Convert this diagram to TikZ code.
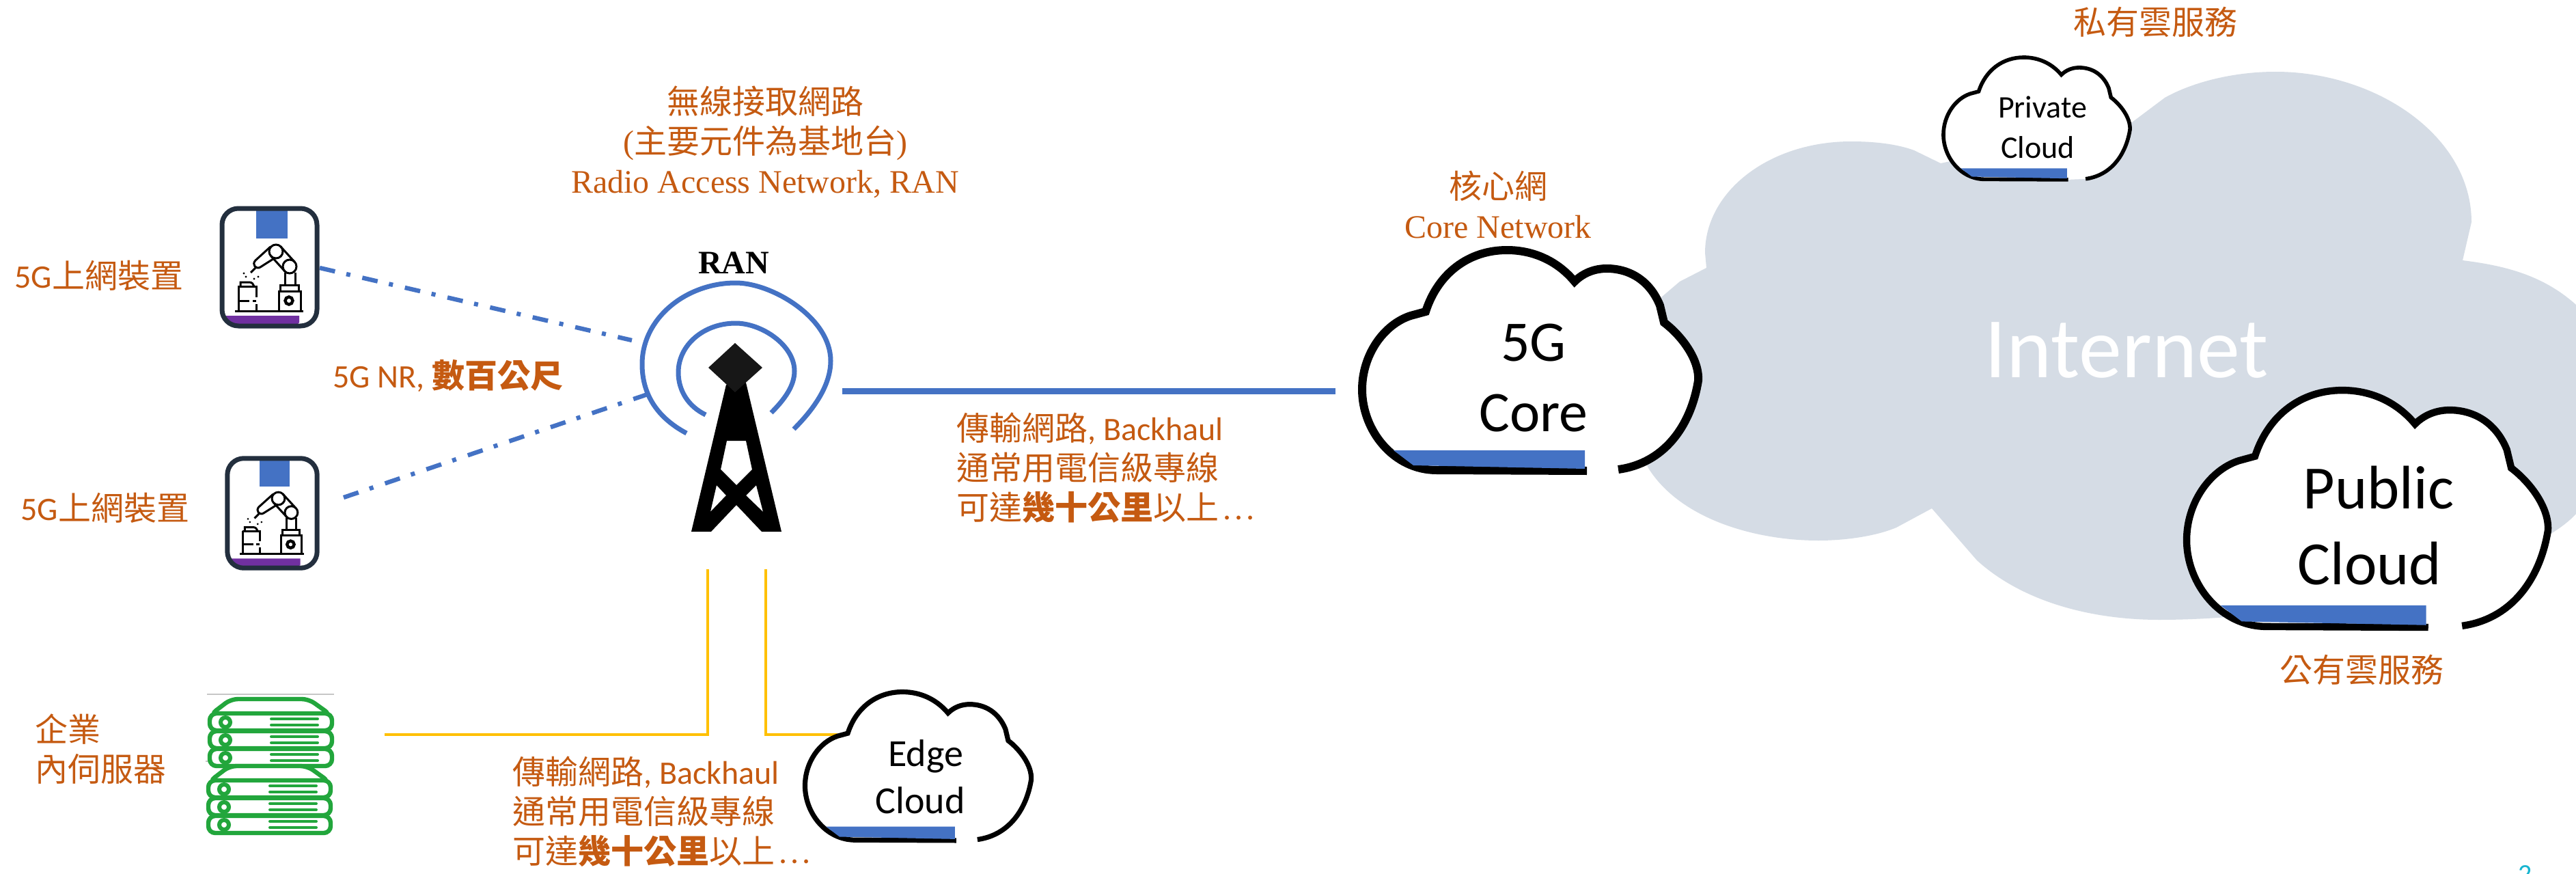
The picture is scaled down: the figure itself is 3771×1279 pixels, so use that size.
\documentclass[tikz,border=0pt]{standalone}
\usepackage{fontspec}
\setmainfont{Carlito}
\newfontfamily\cjk{Noto Sans CJK TC}
\newfontfamily\tms{Liberation Serif}
\definecolor{lbl}{HTML}{C55A11}
\definecolor{netblue}{HTML}{4472C4}
\definecolor{inet}{HTML}{D5DCE5}
\definecolor{devdark}{HTML}{232F3E}
\definecolor{devpurple}{HTML}{7030A0}
\definecolor{srvgreen}{HTML}{22A63C}
\definecolor{yel}{HTML}{FFC000}
\definecolor{pageno}{HTML}{17B5D0}
\tikzset{
  lab/.style={text=lbl,inner sep=0pt,font=\fontsize{24}{29}\selectfont},
  labl/.style={lab,align=left,anchor=north west},
  labc/.style={lab,align=center},
  radio/.style={netblue,line width=3.5pt,line cap=butt},
  wireless/.style={netblue,line width=3.2pt,dash pattern=on 11.5pt off 8.5pt on 3pt off 9pt},
  fibre/.style={yel,line width=2.4pt},
  cloudtxt/.style={inner sep=0pt,anchor=base,text=black},
  robot/.style={black,line width=1.5pt}
}
\newcommand{\spdots}{\hspace{3pt}.\hspace{2.5pt}.\hspace{2.5pt}.}
% cloud outline drawn in the coordinates of the 5G Core cloud
\newcommand{\cloudicon}[1]{%
  \path[fill=white,draw=black,line width=#1]
    (2369,687) .. controls (2435,678) and (2475,625) .. (2486,557)
    .. controls (2488,525) and (2460,490) .. (2436,472)
    -- (2430,447)
    .. controls (2415,410) and (2385,393) .. (2352,393)
    .. controls (2335,393) and (2318,399) .. (2305,412)
    .. controls (2280,382) and (2245,366) .. (2206,366)
    .. controls (2150,366) and (2105,400) .. (2087,456)
    -- (2065,462)
    .. controls (2025,475) and (1994,520) .. (1994,570)
    .. controls (1994,630) and (2040,688) .. (2103,688)
    -- (2323,689);
  \fill[netblue] (2040,659) -- (2320,659) -- (2320,686) -- (2069,681) -- cycle;
}
% robot device drawn in the coordinates of the upper device
\newcommand{\robotdevice}{%
  \fill[white] (325,305) [rounded corners=12pt] rectangle (464,477);
  \fill[netblue] (375,306) rectangle (421,349);
  \fill[devpurple] (327,462) -- (438,462) -- (438,472) -- (434,476) -- (350,476)
     .. controls (338,476) and (329,470) .. (327,462) -- cycle;
  \draw[devdark,line width=3.5pt,rounded corners=12pt] (325,305) rectangle (464,477);
  \draw[robot] (344,455) -- (444,455);
  \draw[robot] (408,455) -- (408,426) -- (440,426) -- (440,455);
  \draw[robot] (410,426) -- (410,417) -- (437,417) -- (437,426);
  \draw[robot,line width=2.2pt] (423,440) circle[radius=5.5];
  \draw[robot] (417,417) -- (417,399) (432,417) -- (432,399);
  \draw[robot] (424,390) circle[radius=10];
  \draw[robot] (404,368) circle[radius=10];
  \draw[robot] (411,361) -- (431,383) (397,375) -- (417,397);
  \draw[robot] (396,361) -- (374,381) .. controls (368,387) and (375,395) .. (381,391) -- (403,377);
  \draw[robot] (374,392) -- (367,399);
  \fill (357,400) circle[radius=1.6] (360,405) circle[radius=1.6]
        (372,408) circle[radius=1.6] (378,405) circle[radius=1.6];
  \draw[robot] (349,455) -- (349,419) (375,435) -- (375,419) (375,445) -- (375,455);
  \draw[robot] (348,419) -- (377,419);
  \draw[robot] (352,419) -- (352,413) -- (365,413) .. controls (369,413) and (371,416) .. (372,419);
  \draw[robot] (349,440) -- (365,440) (370,440) -- (375,440);
}
% server stack drawn in the coordinates of the upper stack
\newcommand{\serverstack}{%
  \path[fill=white,draw=srvgreen,line width=3.2pt,rounded corners=5pt]
     (308,1046) -- (338,1023) -- (452,1023) -- (484,1046) -- cycle;
  \foreach \ty in {1044,1070,1096}{
    \path[fill=white,draw=srvgreen,line width=3.2pt,rounded corners=5pt]
       (307,\ty) rectangle (486,\ty+25);
    \draw[srvgreen,line width=3pt] (330,\ty+13) circle[radius=7];
    \draw[srvgreen,line width=2pt,line cap=round]
       (397,\ty+8) -- (465,\ty+8) (397,\ty+17) -- (465,\ty+17);
  }
}
\begin{document}
\begin{tikzpicture}[x=0.5pt,y=-0.5pt]
\useasboundingbox (0,0) rectangle (3771,1279);
\fill[white] (0,0) rectangle (3771,1279);

% Internet cloud
\fill[inet] (2802,220) .. controls (2775,210) and (2740,207) .. (2710,207)
  .. controls (2590,207) and (2496,280) .. (2496,370) -- (2498,392) -- (2459,412)
  -- (2432,435) .. controls (2395,480) and (2370,600) .. (2413,685)
  .. controls (2460,760) and (2570,791) .. (2662,791)
  .. controls (2700,791) and (2745,785) .. (2776,772) -- (2828,744) -- (2894,820)
  .. controls (2960,880) and (3060,907) .. (3161,907)
  .. controls (3400,907) and (3700,830) .. (3771,752) -- (3771,446)
  .. controls (3720,400) and (3660,388) .. (3605,381) -- (3618,325)
  .. controls (3618,200) and (3480,105) .. (3331,105)
  .. controls (3270,105) and (3210,120) .. (3169,143) -- (3121,179) -- (2841,239) -- cycle;
\node[inner sep=0pt,anchor=base,text=white,font=\fontsize{63}{63}\selectfont] (inet) at (3113,552) {Internet};

% anchor coordinates
\coordinate (devAport) at (468,392);
\coordinate (ranA) at (925,498);
\coordinate (devBport) at (503,728);
\coordinate (ranB) at (948,577);
\coordinate (ranOut) at (1233,572);
\coordinate (coreIn) at (1955,572);
\coordinate (srvOut) at (563,1075);
\coordinate (ranDownA) at (1036,833);
\coordinate (cornerA) at (1036,1075);
\coordinate (ranDownB) at (1121,833);
\coordinate (cornerB) at (1121,1075);
\coordinate (edgeIn) at (1226,1075);

% connectors
\draw[wireless] (devAport) -- (ranA);
\draw[wireless] (devBport) -- (ranB);
\draw[netblue,line width=4.5pt] (ranOut) -- (coreIn);
\draw[fibre] (srvOut) -- (cornerA) -- (ranDownA);
\draw[fibre] (ranDownB) -- (cornerB) -- (edgeIn);

% devices
\robotdevice
\begin{scope}[shift={(25.7,386.2)},xscale=.945,yscale=.933]
  \robotdevice
\end{scope}

% servers
\draw[gray!45,line width=.8pt] (303,1016) -- (489,1016);
\draw[gray!45,line width=.8pt] (301,1114) -- (480,1114);
\serverstack
\begin{scope}[shift={(-2,98)}]
  \serverstack
\end{scope}

% tower
\draw[radio] (1005,634) .. controls (960,610) and (940,575) .. (940,533)
  .. controls (940,465) and (1005,414) .. (1077,414)
  .. controls (1130,414) and (1216,465) .. (1216,528)
  .. controls (1216,565) and (1190,600) .. (1162,628);
\draw[radio] (1033,607) .. controls (1008,595) and (993,572) .. (993,545)
  .. controls (993,505) and (1030,473) .. (1077,473)
  .. controls (1115,473) and (1163,505) .. (1163,543)
  .. controls (1163,565) and (1148,585) .. (1129,604);
\fill[black,even odd rule] (1063,563) -- (1092,560) -- (1144,778) -- (1115,778) -- (1078,739)
   -- (1041,778) -- (1012,778) -- cycle
   (1064,645) -- (1092,645) -- (1101,687) -- (1078,710) -- (1055,687) -- cycle
   (1049,710) -- (1063,725) -- (1040,749) -- cycle
   (1107,710) -- (1092,725) -- (1117,749) -- cycle;
\fill[black!91] (1076,502) -- (1116,538) -- (1076,574) -- (1037,538) -- cycle;

% clouds
\cloudicon{6pt}
\begin{scope}[shift={(1738.3,-118.8)},xscale=.555,yscale=.554]
  \cloudicon{2.8pt}
\end{scope}
\begin{scope}[shift={(1057.5,178)},xscale=1.075,yscale=1.074]
  \cloudicon{5.2pt}
\end{scope}
\begin{scope}[shift={(-163.5,766.2)},xscale=.673,yscale=.673]
  \cloudicon{3.6pt}
\end{scope}

% cloud texts
\node[cloudtxt,font=\fontsize{42}{42}\selectfont] (core5g) at (2245,528) {5G};
\node[cloudtxt,font=\fontsize{42}{42}\selectfont] (coreword) at (2245,631) {Core};
\node[cloudtxt,font=\fontsize{23}{23}\selectfont] (privw) at (2990,173) {Private};
\node[cloudtxt,font=\fontsize{23}{23}\selectfont] (privc) at (2983,231) {Cloud};
\node[cloudtxt,font=\fontsize{45}{45}\selectfont] (pubw) at (3482,744) {Public};
\node[cloudtxt,font=\fontsize{45}{45}\selectfont] (pubc) at (3469,855) {Cloud};
\node[cloudtxt,font=\fontsize{28}{28}\selectfont] (edgew) at (1355,1121) {Edge};
\node[cloudtxt,font=\fontsize{28}{28}\selectfont] (edgec) at (1347,1190) {Cloud};
\node[inner sep=0pt,anchor=base,text=black,font=\tms\bfseries\fontsize{24}{24}\selectfont] (ranword) at (1074,400) {RAN};

% orange labels
\node[labc] (ranlbl) at (1120,208) {{\cjk 無線接取網路}\\{\tms(}{\cjk 主要元件為基地台}{\tms)}\\{\tms Radio Access Network, RAN}};
\node[labc] (corelbl) at (2193,299) {{\cjk 核心網}\\{\tms Core Network}};
\node[labc] (privlbl) at (3155,32) {\cjk 私有雲服務};
\node[labc] (publbl) at (3457,980) {\cjk 公有雲服務};
\node[lab,anchor=west] (devAlbl) at (21,403) {5G{\cjk 上網裝置}};
\node[lab,anchor=west] (devBlbl) at (30,743) {5G{\cjk 上網裝置}};
\node[lab,anchor=west] (nrlbl) at (487,550) {5G NR, {\cjk\bfseries 數百公尺}};
\node[labl] (bhA) at (1400,603) {{\cjk 傳輸網路}, Backhaul\\{\cjk 通常用電信級專線}\\{\cjk 可達}{\cjk\bfseries 幾十公里}{\cjk 以上}\spdots};
\node[labl] (bhB) at (750,1106) {{\cjk 傳輸網路}, Backhaul\\{\cjk 通常用電信級專線}\\{\cjk 可達}{\cjk\bfseries 幾十公里}{\cjk 以上}\spdots};
\node[labl] (srvlbl) at (51,1044) {{\cjk 企業}\\{\cjk 內伺服器}};

% page number (cut by the page edge)
\node[inner sep=0pt,text=pageno,font=\fontsize{20}{20}\selectfont,anchor=base] (pg) at (3697,1292) {2};
\end{tikzpicture}
\end{document}
